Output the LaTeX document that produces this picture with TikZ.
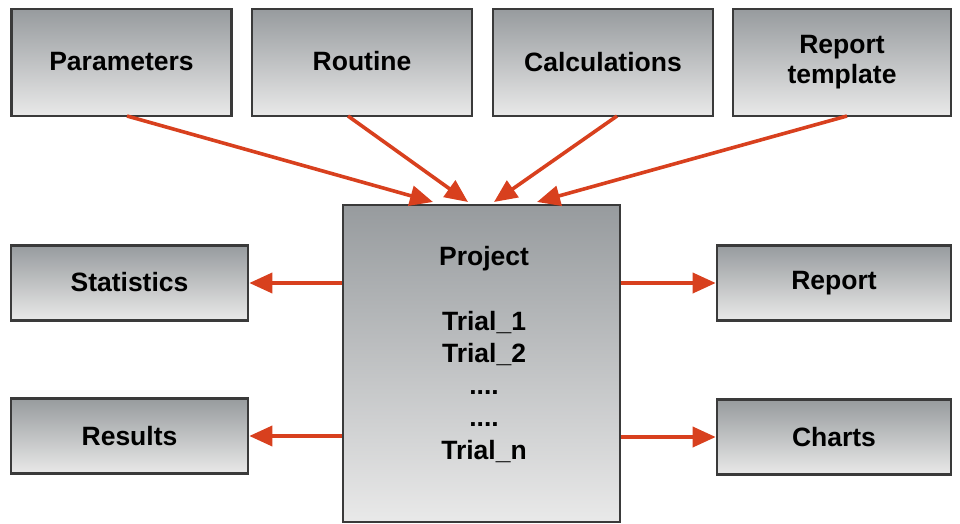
\documentclass[tikz,border=0pt]{standalone}
\usepackage{fontspec}
\setmainfont{Liberation Sans}
\usetikzlibrary{arrows.meta}
\definecolor{boxtop}{HTML}{979B9E}
\definecolor{boxbot}{HTML}{E9E9E9}
\definecolor{boxline}{HTML}{3A3A3A}
\definecolor{arr}{HTML}{D8401E}
\tikzset{
  box/.style={draw=boxline, line width=2.6pt, top color=boxtop, bottom color=boxbot,
    inner sep=0pt, align=center, font=\fontsize{26.5}{30}\selectfont\bfseries},
  topbox/.style={box, minimum width=220pt, minimum height=107pt},
  sidebox/.style={box, minimum height=75pt},
  link/.style={draw=arr, line width=3.6pt, -{Triangle[length=23pt, width=20pt]}},
}
\begin{document}
\begin{tikzpicture}[x=1pt, y=-1pt]
\useasboundingbox (0,0) rectangle (960,524);
\node[topbox] (par) at (121.5,62.5) {\raisebox{2pt}{Parameters}};
\node[topbox] (rou) at (362,62.5) {\raisebox{3pt}{Routine}};
\node[topbox] (cal) at (603,62.5) {Calculations};
\node[topbox, minimum width=218pt] (rep) at (842,62.5) {Report\\template};
\node[sidebox, minimum width=237pt] (sta) at (129.5,283) {\raisebox{2pt}{Statistics}};
\node[sidebox, minimum width=237pt] (res) at (129.5,436) {Results};
\node[sidebox, minimum width=234pt] (rpt) at (834,283) {\raisebox{3pt}{Report}};
\node[sidebox, minimum width=234pt] (cha) at (834,437) {Charts};
\node[box, minimum width=277pt, minimum height=317pt] (prj) at (481.5,363.5) {};
\node[font=\fontsize{26.5}{32.3}\selectfont\bfseries, align=center, anchor=north, inner sep=0pt]
  (prjtxt) at (484,246) {Project\\[32.3pt]Trial\_1\\Trial\_2\\....\\....\\Trial\_n};
% inputs to project
\coordinate (s1) at (127,116);
\coordinate (s2) at (348,116);
\coordinate (s3) at (617,116);
\coordinate (s4) at (847,116);
\coordinate (t1) at (433,202);
\coordinate (t2) at (468,202);
\coordinate (t3) at (494,202);
\coordinate (t4) at (537,202);
\draw[link] (s1) -- (t1);
\draw[link] (s2) -- (t2);
\draw[link] (s3) -- (t3);
\draw[link] (s4) -- (t4);
% outputs
\draw[link] (prj.west |- sta.east) -- (sta.east);
\draw[link] (prj.west |- res.east) -- (res.east);
\draw[link] (prj.east |- rpt.west) -- (rpt.west);
\draw[link] (prj.east |- cha.west) -- (cha.west);
\end{tikzpicture}
\end{document}
